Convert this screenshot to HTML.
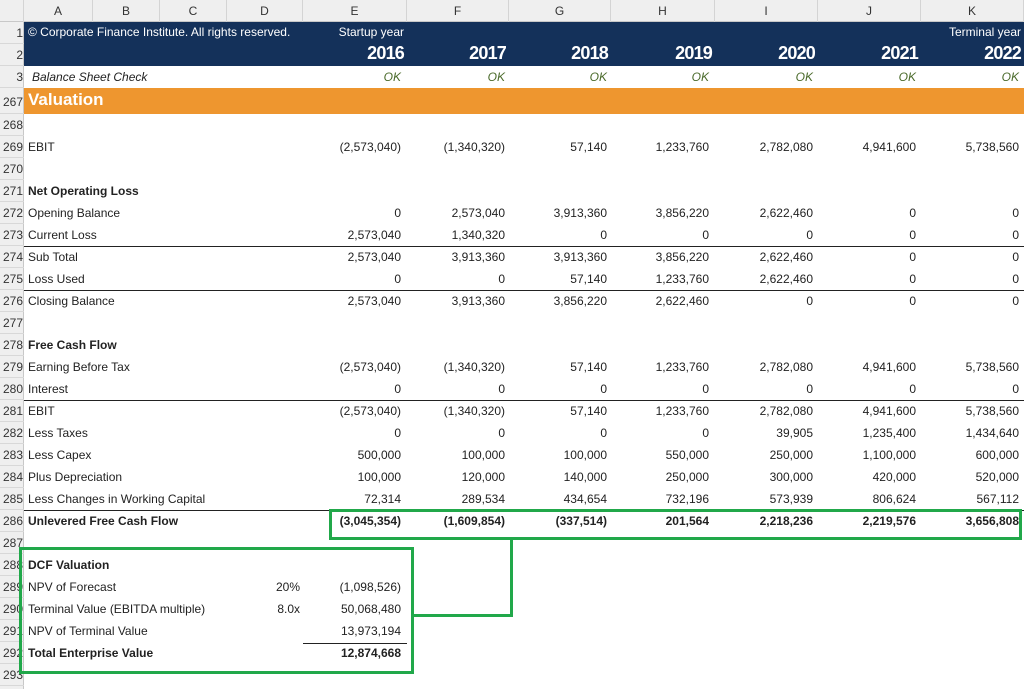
<!DOCTYPE html>
<html><head><meta charset="utf-8"><style>
*{margin:0;padding:0;box-sizing:border-box}
body{width:1024px;height:689px;overflow:hidden;background:#fff;font-family:"Liberation Sans",Arial,sans-serif;font-size:12px;color:#222;position:relative}
.abs{position:absolute}
.ch{position:absolute;top:0;left:0;width:1024px;height:22px;background:#efefef;border-bottom:1px solid #c8c8c8}
.ch span{position:absolute;top:0;height:22px;line-height:22px;text-align:center;color:#333;font-size:12px;border-right:1px solid #d4d4d4}
.rh{position:absolute;left:0;top:22px;width:24px;height:667px;background:#efefef;border-right:1px solid #c8c8c8}
.rn{position:absolute;left:0;width:24px;text-align:right;padding-right:1px;font-size:12px;color:#333;border-bottom:1px solid #d8d8d8}
.row{position:absolute;left:24px;width:1000px;height:22px;line-height:22px}
.c{position:absolute;top:0;text-align:right;white-space:nowrap}
.l{position:absolute;left:4px;top:0;white-space:nowrap}
.e{left:279px;width:98px}.f{left:383px;width:98px}.g{left:485px;width:98px}.h{left:587px;width:98px}.i{left:691px;width:98px}.j{left:794px;width:98px}.k{left:897px;width:98px}
.d{left:200px;width:76px}
.b{font-weight:bold}
.line{position:absolute;height:1px;background:#222}
.g1{position:absolute;border:3px solid #21a84a}
.yr{letter-spacing:-0.8px}
</style></head><body>
<div class="ch">
<span style="left:0;width:24px"></span>
<span style="left:24px;width:69px">A</span><span style="left:93px;width:67px">B</span><span style="left:160px;width:67px">C</span><span style="left:227px;width:76px">D</span><span style="left:303px;width:104px">E</span><span style="left:407px;width:102px">F</span><span style="left:509px;width:102px">G</span><span style="left:611px;width:104px">H</span><span style="left:715px;width:103px">I</span><span style="left:818px;width:103px">J</span><span style="left:921px;width:103px">K</span>
</div>
<div class="rh"></div>
<div class="abs" style="left:24px;top:22px;width:1000px;height:44px;background:#14315a"></div>
<div class="abs" style="left:24px;top:88px;width:1000px;height:26px;background:#ee962f"></div>
<div class="abs" style="left:28px;top:25px;color:#fff;font-size:12px">© Corporate Finance Institute. All rights reserved.</div>
<div class="abs" style="left:303px;top:25px;width:101px;text-align:right;color:#fff">Startup year</div>
<div class="abs" style="left:921px;top:25px;width:100px;text-align:right;color:#fff">Terminal year</div>
<div class="abs yr" style="top:43px;left:0;width:1024px;color:#fff;font-weight:bold;font-size:18px">
<span class="c" style="left:303px;width:101px;top:0">2016</span><span class="c" style="left:407px;width:99px;top:0">2017</span><span class="c" style="left:509px;width:99px;top:0">2018</span><span class="c" style="left:611px;width:101px;top:0">2019</span><span class="c" style="left:715px;width:100px;top:0">2020</span><span class="c" style="left:818px;width:100px;top:0">2021</span><span class="c" style="left:921px;width:100px;top:0">2022</span></div>
<div class="row" style="top:66px;color:#4a6a2a;font-style:italic"><span class="l" style="left:8px;color:#222">Balance Sheet Check</span><span class="c e">OK</span><span class="c f">OK</span><span class="c g">OK</span><span class="c h">OK</span><span class="c i">OK</span><span class="c j">OK</span><span class="c k">OK</span></div>
<div class="abs" style="left:28px;top:90px;color:#fff;font-weight:bold;font-size:17px">Valuation</div>

<div class="rn" style="top:22px;height:22px;line-height:22px">1</div>
<div class="rn" style="top:44px;height:22px;line-height:22px">2</div>
<div class="rn" style="top:66px;height:22px;line-height:22px">3</div>
<div class="rn" style="top:88px;height:26px;line-height:28px">267</div>
<div class="rn" style="top:114px;height:22px;line-height:22px">268</div>
<div class="rn" style="top:136px;height:22px;line-height:22px">269</div>
<div class="rn" style="top:158px;height:22px;line-height:22px">270</div>
<div class="rn" style="top:180px;height:22px;line-height:22px">271</div>
<div class="rn" style="top:202px;height:22px;line-height:22px">272</div>
<div class="rn" style="top:224px;height:22px;line-height:22px">273</div>
<div class="rn" style="top:246px;height:22px;line-height:22px">274</div>
<div class="rn" style="top:268px;height:22px;line-height:22px">275</div>
<div class="rn" style="top:290px;height:22px;line-height:22px">276</div>
<div class="rn" style="top:312px;height:22px;line-height:22px">277</div>
<div class="rn" style="top:334px;height:22px;line-height:22px">278</div>
<div class="rn" style="top:356px;height:22px;line-height:22px">279</div>
<div class="rn" style="top:378px;height:22px;line-height:22px">280</div>
<div class="rn" style="top:400px;height:22px;line-height:22px">281</div>
<div class="rn" style="top:422px;height:22px;line-height:22px">282</div>
<div class="rn" style="top:444px;height:22px;line-height:22px">283</div>
<div class="rn" style="top:466px;height:22px;line-height:22px">284</div>
<div class="rn" style="top:488px;height:22px;line-height:22px">285</div>
<div class="rn" style="top:510px;height:22px;line-height:22px">286</div>
<div class="rn" style="top:532px;height:22px;line-height:22px">287</div>
<div class="rn" style="top:554px;height:22px;line-height:22px">288</div>
<div class="rn" style="top:576px;height:22px;line-height:22px">289</div>
<div class="rn" style="top:598px;height:22px;line-height:22px">290</div>
<div class="rn" style="top:620px;height:22px;line-height:22px">291</div>
<div class="rn" style="top:642px;height:22px;line-height:22px">292</div>
<div class="rn" style="top:664px;height:22px;line-height:22px">293</div>

<div class="row" style="top:136px"><span class="l">EBIT</span><span class="c e">(2,573,040)</span><span class="c f">(1,340,320)</span><span class="c g">57,140</span><span class="c h">1,233,760</span><span class="c i">2,782,080</span><span class="c j">4,941,600</span><span class="c k">5,738,560</span></div>
<div class="row b" style="top:180px"><span class="l">Net Operating Loss</span></div>
<div class="row" style="top:202px"><span class="l">Opening Balance</span><span class="c e">0</span><span class="c f">2,573,040</span><span class="c g">3,913,360</span><span class="c h">3,856,220</span><span class="c i">2,622,460</span><span class="c j">0</span><span class="c k">0</span></div>
<div class="row" style="top:224px"><span class="l">Current Loss</span><span class="c e">2,573,040</span><span class="c f">1,340,320</span><span class="c g">0</span><span class="c h">0</span><span class="c i">0</span><span class="c j">0</span><span class="c k">0</span></div>
<div class="row" style="top:246px"><span class="l">Sub Total</span><span class="c e">2,573,040</span><span class="c f">3,913,360</span><span class="c g">3,913,360</span><span class="c h">3,856,220</span><span class="c i">2,622,460</span><span class="c j">0</span><span class="c k">0</span></div>
<div class="row" style="top:268px"><span class="l">Loss Used</span><span class="c e">0</span><span class="c f">0</span><span class="c g">57,140</span><span class="c h">1,233,760</span><span class="c i">2,622,460</span><span class="c j">0</span><span class="c k">0</span></div>
<div class="row" style="top:290px"><span class="l">Closing Balance</span><span class="c e">2,573,040</span><span class="c f">3,913,360</span><span class="c g">3,856,220</span><span class="c h">2,622,460</span><span class="c i">0</span><span class="c j">0</span><span class="c k">0</span></div>
<div class="row b" style="top:334px"><span class="l">Free Cash Flow</span></div>
<div class="row" style="top:356px"><span class="l">Earning Before Tax</span><span class="c e">(2,573,040)</span><span class="c f">(1,340,320)</span><span class="c g">57,140</span><span class="c h">1,233,760</span><span class="c i">2,782,080</span><span class="c j">4,941,600</span><span class="c k">5,738,560</span></div>
<div class="row" style="top:378px"><span class="l">Interest</span><span class="c e">0</span><span class="c f">0</span><span class="c g">0</span><span class="c h">0</span><span class="c i">0</span><span class="c j">0</span><span class="c k">0</span></div>
<div class="row" style="top:400px"><span class="l">EBIT</span><span class="c e">(2,573,040)</span><span class="c f">(1,340,320)</span><span class="c g">57,140</span><span class="c h">1,233,760</span><span class="c i">2,782,080</span><span class="c j">4,941,600</span><span class="c k">5,738,560</span></div>
<div class="row" style="top:422px"><span class="l">Less Taxes</span><span class="c e">0</span><span class="c f">0</span><span class="c g">0</span><span class="c h">0</span><span class="c i">39,905</span><span class="c j">1,235,400</span><span class="c k">1,434,640</span></div>
<div class="row" style="top:444px"><span class="l">Less Capex</span><span class="c e">500,000</span><span class="c f">100,000</span><span class="c g">100,000</span><span class="c h">550,000</span><span class="c i">250,000</span><span class="c j">1,100,000</span><span class="c k">600,000</span></div>
<div class="row" style="top:466px"><span class="l">Plus Depreciation</span><span class="c e">100,000</span><span class="c f">120,000</span><span class="c g">140,000</span><span class="c h">250,000</span><span class="c i">300,000</span><span class="c j">420,000</span><span class="c k">520,000</span></div>
<div class="row" style="top:488px"><span class="l">Less Changes in Working Capital</span><span class="c e">72,314</span><span class="c f">289,534</span><span class="c g">434,654</span><span class="c h">732,196</span><span class="c i">573,939</span><span class="c j">806,624</span><span class="c k">567,112</span></div>
<div class="row b" style="top:510px"><span class="l">Unlevered Free Cash Flow</span><span class="c e">(3,045,354)</span><span class="c f">(1,609,854)</span><span class="c g">(337,514)</span><span class="c h">201,564</span><span class="c i">2,218,236</span><span class="c j">2,219,576</span><span class="c k">3,656,808</span></div>
<div class="row b" style="top:554px"><span class="l">DCF Valuation</span></div>
<div class="row" style="top:576px"><span class="l">NPV of Forecast</span><span class="c d">20%</span><span class="c e">(1,098,526)</span></div>
<div class="row" style="top:598px"><span class="l">Terminal Value (EBITDA multiple)</span><span class="c d">8.0x</span><span class="c e">50,068,480</span></div>
<div class="row" style="top:620px"><span class="l">NPV of Terminal Value</span><span class="c e">13,973,194</span></div>
<div class="row b" style="top:642px"><span class="l">Total Enterprise Value</span><span class="c e">12,874,668</span></div>

<div class="line" style="left:24px;top:246px;width:1000px"></div>
<div class="line" style="left:24px;top:290px;width:1000px"></div>
<div class="line" style="left:24px;top:400px;width:1000px"></div>
<div class="line" style="left:24px;top:510px;width:1000px"></div>
<div class="line" style="left:303px;top:643px;width:104px"></div>

<div class="g1" style="left:329px;top:509px;width:693px;height:31px"></div>
<div class="g1" style="left:19px;top:547px;width:395px;height:127px"></div>
<div class="abs" style="left:510px;top:538px;width:3px;height:79px;background:#21a84a"></div>
<div class="abs" style="left:412px;top:614px;width:101px;height:3px;background:#21a84a"></div>
</body></html>
